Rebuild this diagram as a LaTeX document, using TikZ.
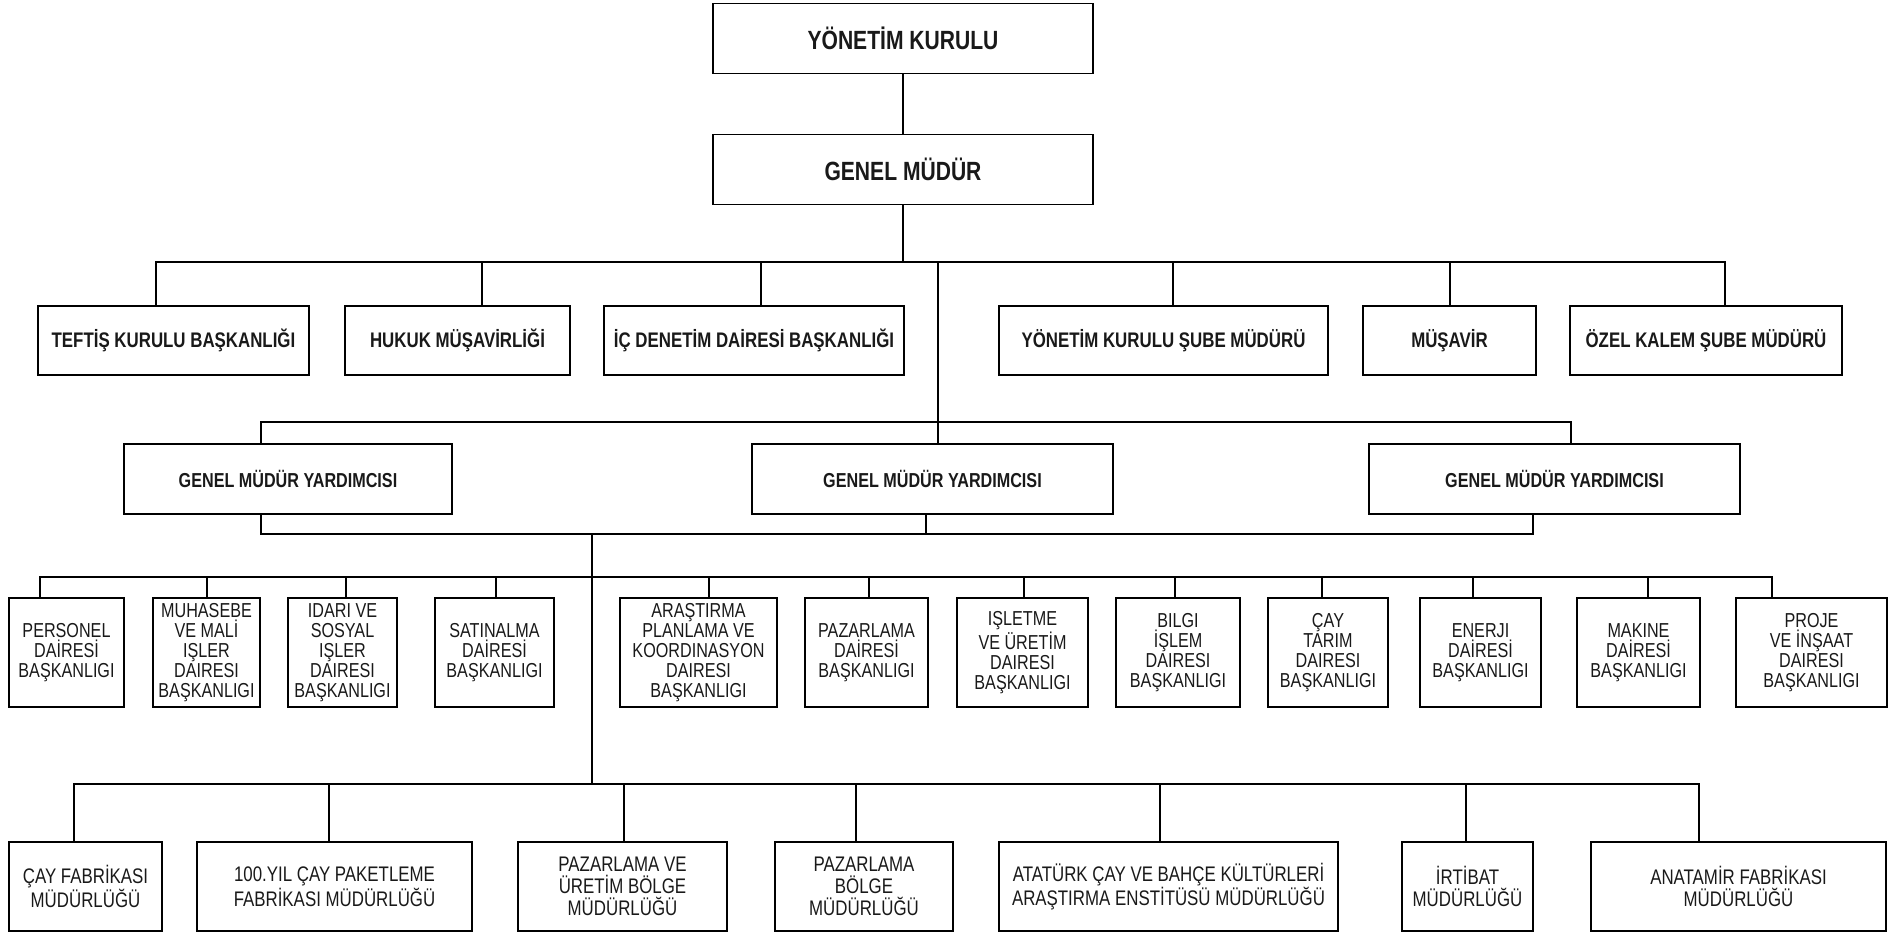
\documentclass[tikz,border=0pt]{standalone}
\usepackage{fontspec}
\setmainfont{Liberation Sans}[FakeStretch=0.8]
\usetikzlibrary{calc}

\begin{document}
\begin{tikzpicture}[
    x=0.02cm, y=-0.02cm,
    unit/.style={draw, line width=1.1pt, inner sep=1pt, align=center, text=black!90},
    head/.style={unit, minimum width=7.6cm, minimum height=1.4cm, font=\fontsize{15}{17}\selectfont\bfseries},
    office/.style={unit, minimum height=1.38cm, font=\fontsize{12}{14}\selectfont\bfseries},
    deputy/.style={unit, minimum height=1.4cm, font=\fontsize{11.5}{13}\selectfont\bfseries},
    dept/.style={unit, minimum height=2.18cm, font=\fontsize{11.5}{11.4}\selectfont},
    plant/.style={unit, minimum height=1.78cm, font=\fontsize{12}{12.4}\selectfont},
    link/.style={line width=1.1pt},
]
    \useasboundingbox (0,0) rectangle (1894,933);

    % Top management
    \node[head] (yk) at (903,38.5) {YÖNETİM KURULU};
    \node[head] (gm) at (903,169.5) {GENEL MÜDÜR};

    % Staff offices
    \node[office, minimum width=5.42cm] (teftis) at (173.5,340.5) {TEFTİŞ KURULU BAŞKANLIĞI};
    \node[office, minimum width=4.5cm] (hukuk) at (457.5,340.5) {HUKUK MÜŞAVİRLİĞİ};
    \node[office, minimum width=6cm] (icdenetim) at (754,340.5) {İÇ DENETİM DAİRESİ BAŞKANLIĞI};
    \node[office, minimum width=6.58cm] (ykube) at (1163.5,340.5) {YÖNETİM KURULU ŞUBE MÜDÜRÜ};
    \node[office, minimum width=3.46cm] (musavir) at (1449.5,340.5) {MÜŞAVİR};
    \node[office, minimum width=5.44cm] (ozelkalem) at (1706,340.5) {ÖZEL KALEM ŞUBE MÜDÜRÜ};

    % Deputies
    \node[deputy, minimum width=6.56cm] (gmy1) at (288,479) {GENEL MÜDÜR YARDIMCISI};
    \node[deputy, minimum width=7.22cm] (gmy2) at (932.5,479) {GENEL MÜDÜR YARDIMCISI};
    \node[deputy, minimum width=7.42cm] (gmy3) at (1554.5,479) {GENEL MÜDÜR YARDIMCISI};

    % Departments
    \node[dept, minimum width=2.3cm] (personel) at (66.5,652.5) {PERSONEL\\DAİRESİ\\BAŞKANLIGI};
    \node[dept, minimum width=2.14cm] (muhasebe) at (206.5,652.5) {MUHASEBE\\VE MALİ\\IŞLER\\DAIRESI\\BAŞKANLIGI};
    \node[dept, minimum width=2.18cm] (idari) at (342.5,652.5) {IDARI VE\\SOSYAL\\IŞLER\\DAIRESI\\BAŞKANLIGI};
    \node[dept, minimum width=2.38cm] (satinalma) at (494.5,652.5) {SATINALMA\\DAİRESİ\\BAŞKANLIGI};
    \node[dept, minimum width=3.14cm] (arastirma) at (698.5,652.5) {ARAŞTIRMA\\PLANLAMA VE\\KOORDINASYON\\DAIRESI\\BAŞKANLIGI};
    \node[dept, minimum width=2.46cm] (pazarlama) at (866.5,652.5) {PAZARLAMA\\DAİRESİ\\BAŞKANLIGI};
    \node[dept, minimum width=2.62cm] (isletme) at (1022.5,652.5) {IŞLETME\\VE ÜRETİM\\DAIRESI\\BAŞKANLIGI};
    \node[dept, minimum width=2.48cm] (bilgi) at (1178,652.5) {BILGI\\İŞLEM\\DAIRESI\\BAŞKANLIGI};
    \node[dept, minimum width=2.4cm] (caytarim) at (1328,652.5) {ÇAY\\TARIM\\DAIRESI\\BAŞKANLIGI};
    \node[dept, minimum width=2.42cm] (enerji) at (1480.5,652.5) {ENERJI\\DAİRESİ\\BAŞKANLIGI};
    \node[dept, minimum width=2.46cm] (makine) at (1638.5,652.5) {MAKINE\\DAİRESİ\\BAŞKANLIGI};
    \node[dept, minimum width=3.02cm] (proje) at (1811.5,652.5) {PROJE\\VE İNŞAAT\\DAIRESI\\BAŞKANLIGI};

    % Provincial units
    \node[plant, minimum width=3.06cm] (cayfab) at (85.5,886.5) {ÇAY FABRİKASI\\MÜDÜRLÜĞÜ};
    \node[plant, minimum width=5.5cm] (yuzyil) at (334.5,886.5) {100.YIL ÇAY PAKETLEME\\FABRİKASI MÜDÜRLÜĞÜ};
    \node[plant, minimum width=4.18cm] (pazuretim) at (622.5,886.5) {PAZARLAMA VE\\ÜRETİM BÖLGE\\MÜDÜRLÜĞÜ};
    \node[plant, minimum width=3.56cm] (pazbolge) at (864,886.5) {PAZARLAMA\\BÖLGE\\MÜDÜRLÜĞÜ};
    \node[plant, minimum width=6.78cm] (ataturk) at (1168.5,886.5) {ATATÜRK ÇAY VE BAHÇE KÜLTÜRLERİ\\ARAŞTIRMA ENSTİTÜSÜ MÜDÜRLÜĞÜ};
    \node[plant, minimum width=2.62cm] (irtibat) at (1467.5,886.5) {İRTİBAT\\MÜDÜRLÜĞÜ};
    \node[plant, minimum width=5.9cm] (anatamir) at (1738.5,886.5) {ANATAMİR FABRİKASI\\MÜDÜRLÜĞÜ};

    % Bus points
    \coordinate (bus2) at (903,262);
    \coordinate (bus3) at (938,422);
    \coordinate (bus4) at (592,534);
    \coordinate (bus5) at (592,577);
    \coordinate (bus6) at (592,784);

    % Connectors
    \draw[link] (yk) -- (gm);
    \draw[link] (gm) -- (bus2);
    \foreach \n/\dx in {teftis/-17.5, hukuk/24.5, icdenetim/7, ykube/9.5, musavir/0.5, ozelkalem/19}
        \draw[link] ($(\n.north)+(\dx,0)$) |- (bus2);
    \draw[link] ($(gmy2.north)+(5.5,0)$) |- (bus2);
    \foreach \n/\dx in {gmy1/-27, gmy3/16.5}
        \draw[link] ($(\n.north)+(\dx,0)$) |- (bus3);
    \foreach \n/\dx in {gmy1/-27, gmy2/-6.5, gmy3/-21.5}
        \draw[link] ($(\n.south)+(\dx,0)$) |- (bus4);
    \draw[link] (bus4) -- (bus6);
    \foreach \n/\dx in {personel/-26.5, muhasebe/0.5, idari/3.5, satinalma/1.5, arastirma/10.5, pazarlama/2.5,
                        isletme/1.5, bilgi/-3, caytarim/-6, enerji/-7.5, makine/9.5, proje/-39.5}
        \draw[link] ($(\n.north)+(\dx,0)$) |- (bus5);
    \foreach \n/\dx in {cayfab/-11.5, yuzyil/-5.5, pazuretim/1.5, pazbolge/-8, ataturk/-8.5, irtibat/-1.5, anatamir/-39.5}
        \draw[link] ($(\n.north)+(\dx,0)$) |- (bus6);
\end{tikzpicture}
\end{document}
